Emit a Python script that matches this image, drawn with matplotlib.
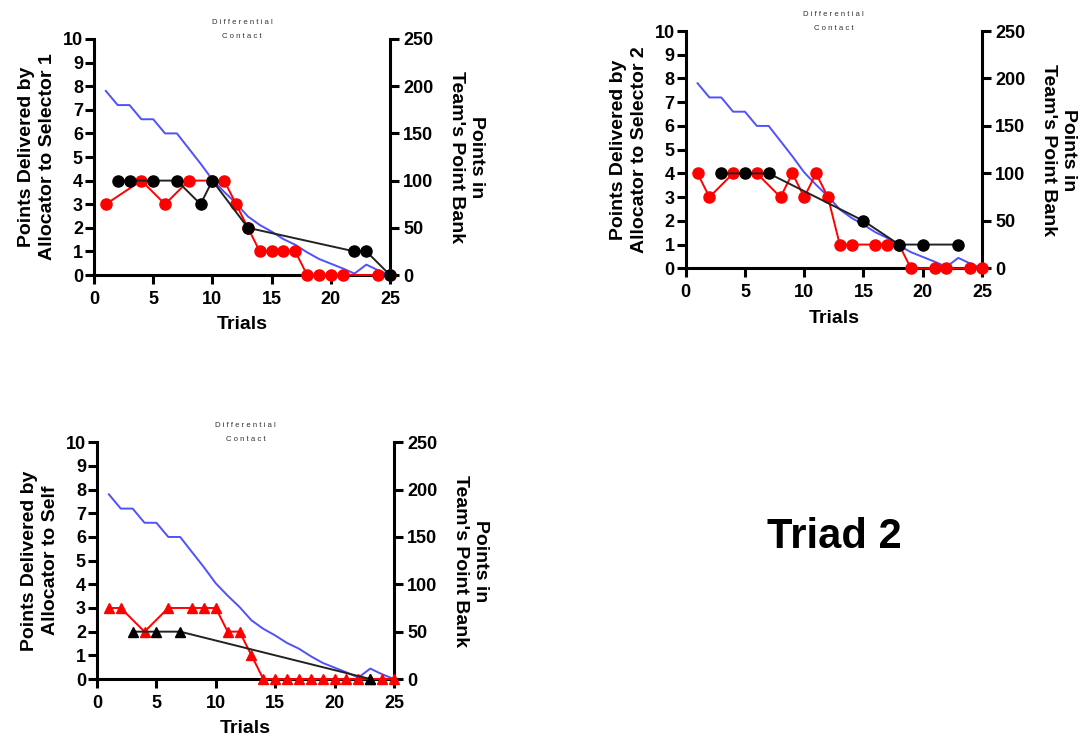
import matplotlib
matplotlib.use("Agg")
import matplotlib.pyplot as plt

plt.rcParams['font.family'] = ['Liberation Sans', 'DejaVu Sans']

W, H = 1082, 738

# Shared team point bank (right axis)
bank_x = list(range(1, 26))
bank_y = [195, 180, 180, 165, 165, 150, 150, 134, 118, 101, 88, 76, 62, 53, 46,
          38, 32, 24, 17, 12, 7, 1.5, 11, 5, 0]

# Panel 1: Allocator to Selector 1
p1_red_x = [1, 4, 6, 8, 10, 11, 12, 13, 14, 15, 16, 17, 18, 19, 20, 21, 24, 25]
p1_red_y = [3, 4, 3, 4, 4, 4, 3, 2, 1, 1, 1, 1, 0, 0, 0, 0, 0, 0]
p1_blk_x = [2, 3, 5, 7, 9, 10, 13, 22, 23, 25]
p1_blk_y = [4, 4, 4, 4, 3, 4, 2, 1, 1, 0]

# Panel 2: Allocator to Selector 2
p2_red_x = [1, 2, 4, 6, 8, 9, 10, 11, 12, 13, 14, 16, 17, 18, 19, 21, 22, 24, 25]
p2_red_y = [4, 3, 4, 4, 3, 4, 3, 4, 3, 1, 1, 1, 1, 1, 0, 0, 0, 0, 0]
p2_blk_x = [3, 5, 7, 15, 18, 20, 23]
p2_blk_y = [4, 4, 4, 2, 1, 1, 1]

# Panel 3: Allocator to Self
p3_red_x = [1, 2, 4, 6, 8, 9, 10, 11, 12, 13, 14, 15, 16, 17, 18, 19, 20, 21, 22, 23, 24, 25]
p3_red_y = [3, 3, 2, 3, 3, 3, 3, 2, 2, 1, 0, 0, 0, 0, 0, 0, 0, 0, 0, 0, 0, 0]
p3_blk_x = [3, 5, 7, 23]
p3_blk_y = [2, 2, 2, 0]

left_ticks = list(range(0, 11))
right_ticks = [0, 50, 100, 150, 200, 250]
x_ticks = [0, 5, 10, 15, 20, 25]

fig = plt.figure(figsize=(W / 100, H / 100), dpi=100)

BLUE = '#5050ff'
RED = '#ff0000'
FS_T = 13
FS_L = 14


def make_panel(l, r, t, b, red_x, red_y, blk_x, blk_y, marker, ylabel):
    ax = fig.add_axes([l / W, 1 - b / H, (r - l) / W, (b - t) / H])
    ax2 = ax.twinx()
    ax2.plot(bank_x, bank_y, color=BLUE, lw=1.4, zorder=1, clip_on=False)
    ax2.set_ylim(0, 250)
    ax2.set_yticks(right_ticks)
    ax.set_zorder(ax2.get_zorder() + 1)
    ax.patch.set_visible(False)
    ms = 8 if marker == 'o' else 7.5
    ax.plot(red_x, red_y, color=RED, lw=1.4, marker=marker, ms=ms,
            mfc=RED, mec=RED, clip_on=False, zorder=3)
    ax.plot(blk_x, blk_y, color='#222222', lw=1.4, marker=marker, ms=ms,
            mfc='black', mec='black', clip_on=False, zorder=4)
    ax.set_xlim(0, 25)
    ax.set_ylim(0, 10)
    ax.set_xticks(x_ticks)
    ax.set_yticks(left_ticks)
    for a in (ax, ax2):
        a.spines['top'].set_visible(False)
        for s in a.spines.values():
            s.set_linewidth(2.2)
    ax.spines['right'].set_visible(False)
    ax2.spines['left'].set_visible(False)
    ax2.spines['bottom'].set_visible(False)
    ax.tick_params(axis='y', direction='out', length=6.5, width=2.2,
                   labelsize=FS_T, pad=1.5)
    ax.tick_params(axis='x', direction='out', length=6.5, width=2.2,
                   labelsize=FS_T, pad=5)
    ax2.tick_params(axis='y', direction='out', length=6.5, width=2.2,
                    labelsize=FS_T, pad=3)
    for lab in ax.get_xticklabels() + ax.get_yticklabels() + ax2.get_yticklabels():
        lab.set_fontweight('bold')
    ax.set_xlabel('Trials', fontsize=FS_L, fontweight='bold', labelpad=6)
    ax.set_ylabel(ylabel, fontsize=FS_L, fontweight='bold', labelpad=5,
                  linespacing=1.3)
    ax2.set_ylabel("Points in\nTeam's Point Bank", fontsize=FS_L,
                   fontweight='bold', rotation=270, labelpad=37,
                   linespacing=1.25)
    ax.text(0.5, 0.995, 'D i f f e r e n t i a l\nC o n t a c t',
            transform=ax.transAxes, ha='center', va='bottom',
            fontsize=5.6, color='#333333', linespacing=2.4)
    return ax


make_panel(94, 390, 39, 275, p1_red_x, p1_red_y, p1_blk_x, p1_blk_y, 'o',
           'Points Delivered by\nAllocator to Selector 1')
make_panel(685.7, 982, 31, 268.3, p2_red_x, p2_red_y, p2_blk_x, p2_blk_y, 'o',
           'Points Delivered by\nAllocator to Selector 2')
make_panel(97, 394, 442.3, 679, p3_red_x, p3_red_y, p3_blk_x, p3_blk_y, '^',
           'Points Delivered by\nAllocator to Self')

fig.text(834 / W, 1 - 537 / H, 'Triad 2', fontsize=30, fontweight='bold',
         ha='center', va='center')

fig.savefig('out.png', dpi=100)
